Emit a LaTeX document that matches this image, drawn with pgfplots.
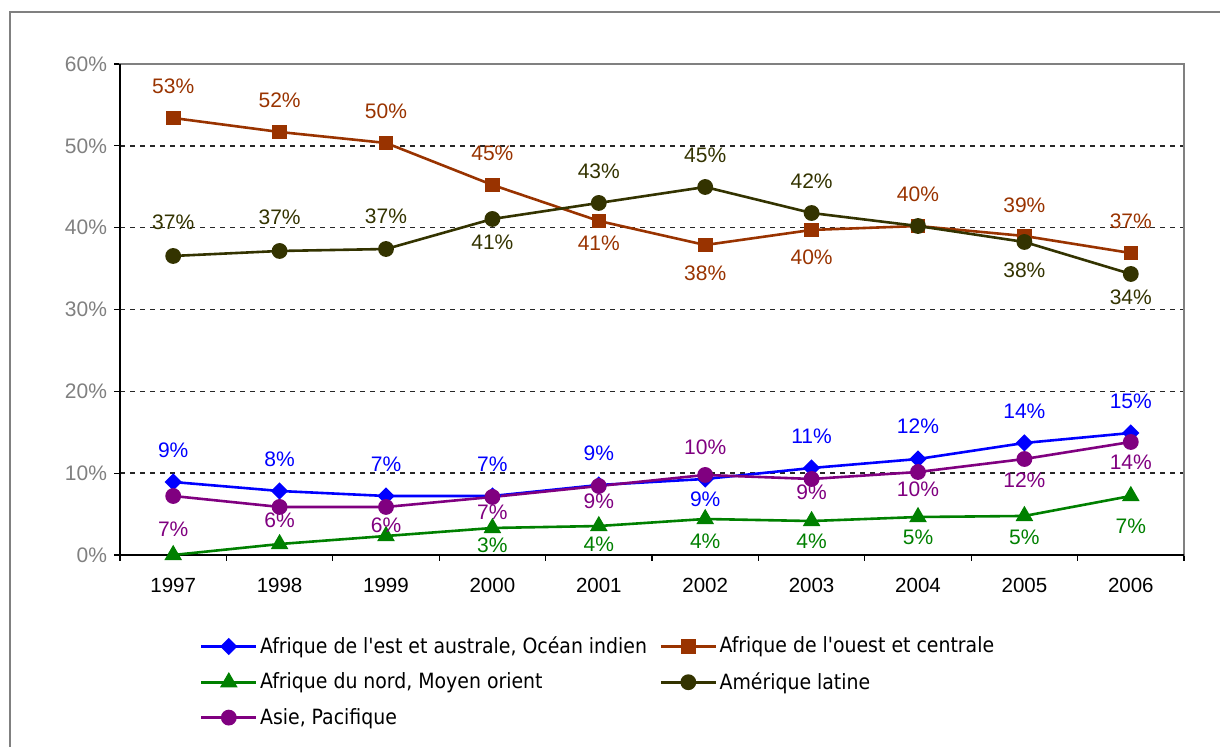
\documentclass[border=0pt]{standalone}
\usepackage{pgfplots}
\pgfplotsset{compat=1.18}
\usepackage{pgfplotstable}
\usepackage{fontspec}
\setmainfont{Liberation Sans}
\newfontfamily\legfont{DejaVu Sans Condensed}
\definecolor{cBlue}{RGB}{0,0,255}
\definecolor{cOrange}{RGB}{153,51,0}
\definecolor{cGreen}{RGB}{0,128,0}
\definecolor{cOlive}{RGB}{51,51,0}
\definecolor{cPurple}{RGB}{128,0,128}
\definecolor{cGray}{RGB}{128,128,128}

\pgfplotstableread{
x y lab dy
0 8.92 9\% 16
1 7.82 8\% 16
2 7.21 7\% 16
3 7.21 7\% 16
4 8.55 9\% 16
5 9.29 9\% -10
6 10.63 11\% 16
7 11.73 12\% 16.5
8 13.69 14\% 16
9 14.91 15\% 16
}\tblBlue
\pgfplotstableread{
x y lab dy
0 53.40 53\% 16
1 51.69 52\% 16
2 50.35 50\% 16
3 45.22 45\% 16
4 40.82 41\% -11
5 37.88 38\% -14
6 39.72 40\% -13.5
7 40.20 40\% 16
8 38.98 39\% 15.5
9 36.90 37\% 16
}\tblOrange
\pgfplotstableread{
x y lab dy
0 0.00 {} 0
1 1.34 {} 0
2 2.32 {} 0
3 3.30 3\% -8.5
4 3.54 4\% -9
5 4.40 4\% -11
6 4.15 4\% -10
7 4.64 5\% -10
8 4.77 5\% -10.5
9 7.21 7\% -15
}\tblGreen
\pgfplotstableread{
x y lab dy
0 36.54 37\% 17
1 37.15 37\% 17
2 37.39 37\% 16.5
3 41.06 41\% -11.5
4 43.02 43\% 16
5 44.97 45\% 16
6 41.79 42\% 16
7 40.20 {} 0
8 38.25 38\% -14
9 34.34 34\% -11.5
}\tblOlive
\pgfplotstableread{
x y lab dy
0 7.21 7\% -16.5
1 5.87 6\% -6.5
2 5.87 6\% -9
3 7.09 7\% -7.5
4 8.43 9\% -7.5
5 9.78 10\% 14
6 9.29 9\% -6.5
7 10.14 10\% -8.5
8 11.73 12\% -10.5
9 13.81 14\% -10
}\tblPurple

\pgfplotsset{
  lbl/.style={
    point meta=explicit symbolic,
    visualization depends on={\thisrow{dy} \as \labdy},
    nodes near coords={\pgfplotspointmeta},
    nodes near coords style={anchor=center, inner sep=0pt, yshift=\labdy pt, text=#1, font=\fontsize{10.5}{12}\selectfont},
  },
}

\begin{document}
\begin{tikzpicture}
\begin{scope}[shift={(-60pt,277.5pt)}, x=0.5pt, y=-0.5pt]
  \path[use as bounding box] (0,0) rectangle (1220,747);
  \draw[cGray, line width=1.3pt] (10,750) -- (10,12) -- (1225,12);
\end{scope}
\begin{axis}[
  set layers,
  at={(0,0)}, anchor=south west,
  scale only axis, width=532pt, height=245.5pt,
  xmin=-0.5, xmax=9.5, ymin=0, ymax=60,
  xtick={0,1,2,3,4,5,6,7,8,9},
  xticklabels={1997,1998,1999,2000,2001,2002,2003,2004,2005,2006},
  minor xtick={-0.5,0.5,1.5,2.5,3.5,4.5,5.5,6.5,7.5,8.5,9.5},
  ytick={0,10,20,30,40,50,60},
  yticklabel={\pgfmathprintnumber{\tick}\%},
  tick align=outside,
  xtick pos=left, ytick pos=left,
  major x tick style={draw=none},
  major tick length=3pt, minor tick length=3pt,
  tick style={black, line width=0.6pt},
  ymajorgrids,
  grid style={black!85, dash pattern=on 2.5pt off 2.5pt, line width=0.7pt},
  axis line style={cGray, line width=1pt},
  yticklabel style={cGray, font=\fontsize{10.5}{12}\selectfont},
  xticklabel style={black, font=\fontsize{10.25}{12}\selectfont, yshift=-5pt},
  /pgf/number format/assume math mode=true,
  clip=false,
  legend columns=2,
  legend cell align=left,
  legend style={
    at={(axis description cs:0.0752,-0.161)}, anchor=north west,
    draw=none, fill=none, inner sep=0pt, outer sep=0pt,
    font=\legfont\fontsize{10.5}{12}\selectfont,
    row sep=5.5pt,
    nodes={inner sep=1.25pt},
    /tikz/every even column/.append style={column sep=5pt},
  },
  legend image code/.code={\draw[mark repeat=2,mark phase=2] plot coordinates {(0pt,0pt) (13.75pt,0pt) (27.5pt,0pt)};},
]
\draw[on layer=axis lines, black, line width=0.8pt] (rel axis cs:0,1) -- (rel axis cs:0,0) -- (rel axis cs:1,0);

\addplot[cBlue, line width=1.3pt, mark=square*, mark size=2.4pt, mark options={rotate=45, solid}, lbl=cBlue] table[x=x,y=y,meta=lab] {\tblBlue};
\addlegendentry{Afrique de l'est et australe, Océan indien}
\addplot[cOrange, line width=1.3pt, mark=square*, mark size=3pt, mark options={solid}, lbl=cOrange] table[x=x,y=y,meta=lab] {\tblOrange};
\addlegendentry{Afrique de l'ouest et centrale}
\addplot[cGreen, line width=1.3pt, mark=triangle*, mark size=3.8pt, mark options={solid}, lbl=cGreen] table[x=x,y=y,meta=lab] {\tblGreen};
\addlegendentry{Afrique du nord, Moyen orient}
\addplot[cOlive, line width=1.3pt, mark=*, mark size=3.3pt, mark options={solid}, lbl=cOlive] table[x=x,y=y,meta=lab] {\tblOlive};
\addlegendentry{Amérique latine}
\addplot[cPurple, line width=1.3pt, mark=*, mark size=3.3pt, mark options={solid}, lbl=cPurple] table[x=x,y=y,meta=lab] {\tblPurple};
\addlegendentry{Asie, Pacifique}
\end{axis}
\end{tikzpicture}
\end{document}
